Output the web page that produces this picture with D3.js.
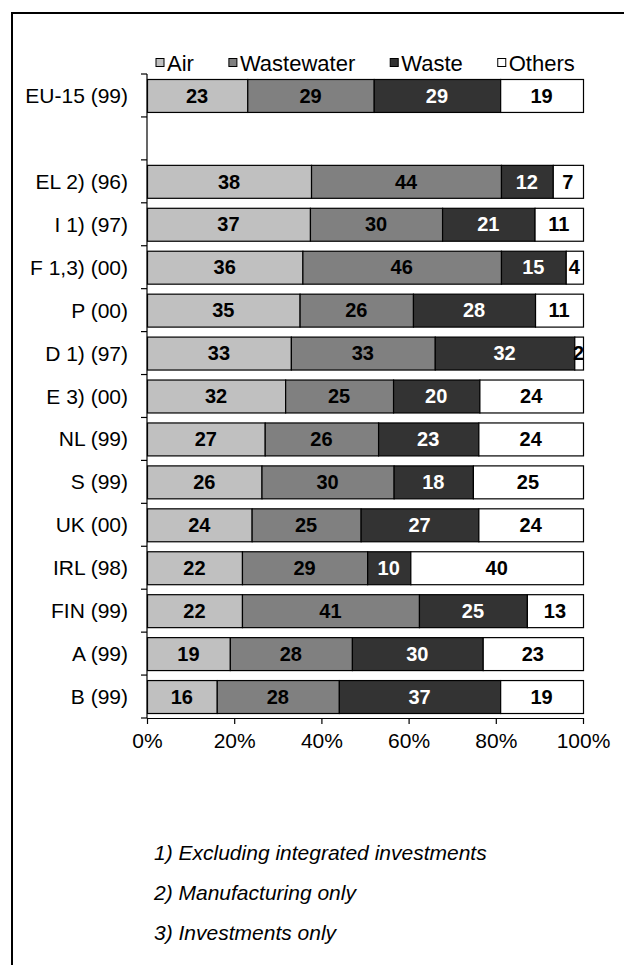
<!DOCTYPE html>
<html>
<head>
<meta charset="utf-8">
<script src="https://cdn.jsdelivr.net/npm/d3@7/dist/d3.min.js"></script>
<style>
  html, body { margin: 0; padding: 0; background: #fff; }
  svg { display: block; }
  text { font-family: "Liberation Sans", Arial, sans-serif; }
</style>
</head>
<body>
<svg id="chart" width="624" height="965"></svg>
<script>
// Share of environmental protection expenditure by domain (%)
const categories = ["EU-15 (99)", "", "EL 2) (96)", "I 1) (97)", "F 1,3) (00)", "P (00)", "D 1) (97)",
  "E 3) (00)", "NL (99)", "S (99)", "UK (00)", "IRL (98)", "FIN (99)", "A (99)", "B (99)"];
const seriesNames = ["Air", "Wastewater", "Waste", "Others"];
const air        = [23, null, 38, 37, 36, 35, 33, 32, 27, 26, 24, 22, 22, 19, 16];
const wastewater = [29, null, 44, 30, 46, 26, 33, 25, 26, 30, 25, 29, 41, 28, 28];
const waste      = [29, null, 12, 21, 15, 28, 32, 20, 23, 18, 27, 10, 25, 30, 37];
const others     = [19, null,  7, 11,  4, 11,  2, 24, 24, 25, 24, 40, 13, 23, 19];
const xTicks = [0, 0.2, 0.4, 0.6, 0.8, 1];
const footnotes = ["1) Excluding integrated investments", "2) Manufacturing only", "3) Investments only"];

const fills = ["#c0c0c0", "#808080", "#333333", "#ffffff"];
const labelColors = ["#000", "#000", "#fff", "#000"];

const svg = d3.select("#chart");

// page frame
svg.append("path")
  .attr("d", "M12,980 L12,13 L640,13")
  .attr("fill", "none").attr("stroke", "#000").attr("stroke-width", 2);

const plotLeft = 147, plotRight = 583, plotTop = 74, plotBottom = 718;

const x = d3.scaleLinear().domain([0, 1]).range([plotLeft, plotRight]);
const y = d3.scaleBand().domain(categories.map((c, i) => i)).range([plotTop, plotBottom])
  .paddingInner(0.2326).paddingOuter(0.1163);

// rows as stacked, normalised shares
const rows = categories.map((c, i) => {
  const vals = [air[i], wastewater[i], waste[i], others[i]];
  if (vals[0] == null) return null;
  const total = d3.sum(vals);
  let acc = 0;
  return vals.map((v, k) => {
    const seg = { i, k, v, x0: acc / total, x1: (acc + v) / total };
    acc += v;
    return seg;
  });
}).filter(Boolean);

const segs = rows.flat();

const g = svg.append("g");
g.selectAll("rect.seg").data(segs).join("rect")
  .attr("class", "seg")
  .attr("x", d => x(d.x0) + 0.5)
  .attr("y", d => y(d.i) + 0.5)
  .attr("width", d => x(d.x1) - x(d.x0))
  .attr("height", y.bandwidth())
  .attr("fill", d => fills[d.k])
  .attr("stroke", "#000").attr("stroke-width", 1.2);

g.selectAll("text.val").data(segs).join("text")
  .attr("class", "val")
  .attr("x", d => x((d.x0 + d.x1) / 2))
  .attr("y", d => y(d.i) + y.bandwidth() / 2)
  .attr("dy", "0.36em")
  .attr("text-anchor", "middle")
  .attr("font-weight", "bold")
  .attr("font-size", 20)
  .attr("fill", d => labelColors[d.k])
  .text(d => d.v);

// category axis with ticks between categories
const ax = svg.append("g").attr("stroke", "#000").attr("stroke-width", 1.2);
ax.append("line").attr("x1", plotLeft).attr("x2", plotLeft).attr("y1", plotTop).attr("y2", plotBottom);
d3.range(categories.length + 1).forEach(j => {
  const yy = plotTop + j * y.step();
  ax.append("line").attr("x1", plotLeft - 6).attr("x2", plotLeft).attr("y1", yy).attr("y2", yy);
});
svg.append("g").selectAll("text").data(categories.map((c, i) => ({ c, i })).filter(d => d.c))
  .join("text")
  .attr("x", plotLeft - 19)
  .attr("y", d => y(d.i) + y.bandwidth() / 2)
  .attr("dy", "0.36em")
  .attr("text-anchor", "end")
  .attr("font-size", 21)
  .text(d => d.c);

// value axis
const xAxis = d3.axisBottom(x).tickValues(xTicks).tickFormat(d3.format(".0%"))
  .tickSize(6).tickSizeOuter(0).tickPadding(9);
const xg = svg.append("g").attr("transform", `translate(0,${plotBottom})`).call(xAxis);
xg.select(".domain").attr("stroke", "#000").attr("stroke-width", 1.2);
xg.selectAll(".tick line").attr("stroke", "#000").attr("stroke-width", 1.2);
xg.selectAll(".tick text").attr("font-size", 21).attr("fill", "#000")
  .attr("font-family", "Liberation Sans, Arial, sans-serif");

// legend
const legend = svg.append("g").attr("transform", "translate(156,63)");
let lx = 0;
seriesNames.forEach((name, k) => {
  const item = legend.append("g").attr("transform", `translate(${lx},0)`);
  item.append("rect").attr("x", 0).attr("y", -4.5).attr("width", 8).attr("height", 8)
    .attr("fill", fills[k]).attr("stroke", "#000").attr("stroke-width", 1);
  const t = item.append("text").attr("x", 11).attr("y", 0).attr("dy", "0.36em")
    .attr("font-size", 22).text(name);
  lx += 11 + t.node().getComputedTextLength() + 35;
});

// footnotes
svg.append("g").selectAll("text").data(footnotes).join("text")
  .attr("x", 154)
  .attr("y", (d, i) => 852 + i * 40)
  .attr("dy", "0.36em")
  .attr("font-size", 21)
  .attr("font-style", "italic")
  .text(d => d);
</script>
</body>
</html>
